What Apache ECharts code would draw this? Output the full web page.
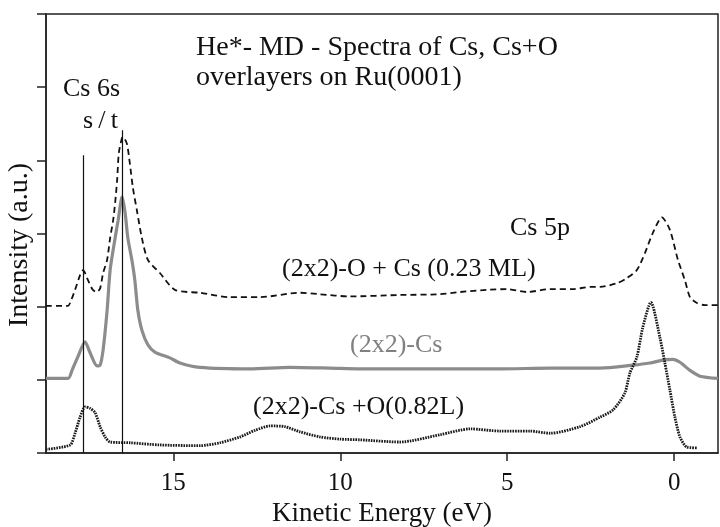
<!DOCTYPE html>
<html>
<head>
<meta charset="utf-8">
<script src="https://cdn.jsdelivr.net/npm/echarts@6/dist/echarts.min.js"></script>
<style>
  html, body { margin: 0; padding: 0; background: #fff; }
  #chart { width: 720px; height: 527px; }
</style>
</head>
<body>
<div id="chart"></div>
<script>
// kinetic energy (eV) / intensity (a.u., curves already offset)
var oCsEnergy = [18.81, 18.15, 18.09, 17.94, 17.79, 17.70, 17.55, 17.41, 17.29, 17.19, 17.10, 16.98, 16.89, 16.80, 16.74,
  16.68, 16.63, 16.54, 16.51, 16.39, 16.30, 16.21, 16.09, 15.94, 15.76, 15.40, 14.95, 14.20, 13.30, 12.40, 11.21, 10.61,
  9.71, 8.21, 7.01, 6.41, 5.61, 5.01, 4.41, 3.72, 3.03, 2.52, 2.22, 1.72, 1.42, 1.12, 0.88, 0.64, 0.37, 0.13, -0.11,
  -0.32, -0.47, -0.68, -0.92, -1.31];
var oCsIntensity = [2.01, 2.01, 2.05, 2.23, 2.43, 2.50, 2.36, 2.23, 2.20, 2.25, 2.46, 2.64, 2.94, 3.18, 3.42,
  3.73, 4.10, 4.30, 4.32, 4.23, 3.96, 3.63, 3.32, 2.94, 2.64, 2.46, 2.23, 2.19, 2.13, 2.13, 2.19, 2.17,
  2.14, 2.16, 2.17, 2.20, 2.23, 2.24, 2.20, 2.24, 2.24, 2.27, 2.27, 2.32, 2.39, 2.50, 2.73, 3.01, 3.22, 3.05, 2.64,
  2.36, 2.13, 2.05, 2.02, 2.02];

var csEnergy = [18.81, 18.15, 18.03, 17.86, 17.64, 17.49, 17.28, 17.19, 17.10, 16.98, 16.89, 16.74, 16.65, 16.53, 16.44,
  16.36, 16.24, 16.15, 16.06, 15.94, 15.76, 15.55, 15.10, 14.80, 14.20, 12.70, 11.51, 10.31, 9.41, 8.21, 6.71, 5.22,
  3.72, 2.22, 1.24, 0.73, 0.34, 0.04, -0.17, -0.47, -0.77, -1.31];
var csIntensity = [1.02, 1.02, 1.13, 1.31, 1.52, 1.37, 1.19, 1.20, 1.41, 1.95, 2.50, 2.94, 3.18, 3.50, 3.28,
  2.94, 2.64, 2.36, 1.95, 1.68, 1.48, 1.38, 1.30, 1.23, 1.17, 1.15, 1.17, 1.16, 1.15, 1.15, 1.15, 1.15,
  1.16, 1.16, 1.20, 1.23, 1.27, 1.28, 1.24, 1.13, 1.05, 1.02];

var csOEnergy = [18.81, 18.09, 17.94, 17.79, 17.64, 17.49, 17.34, 17.19, 17.04, 16.89, 16.30, 15.40, 14.20, 13.60, 13.00,
  12.55, 12.10, 11.66, 11.21, 10.61, 10.01, 9.41, 8.21, 7.01, 6.11, 5.22, 4.32, 3.72, 2.82, 2.22, 1.83, 1.48, 1.33,
  1.12, 0.94, 0.70, 0.43, 0.28, 0.13, -0.02, -0.17, -0.38, -0.68];
var csOIntensity = [0.05, 0.11, 0.27, 0.49, 0.63, 0.61, 0.55, 0.36, 0.22, 0.15, 0.14, 0.11, 0.10, 0.14, 0.22,
  0.31, 0.37, 0.36, 0.29, 0.22, 0.19, 0.18, 0.15, 0.25, 0.33, 0.30, 0.30, 0.27, 0.36, 0.49, 0.59, 0.82, 1.09,
  1.31, 1.72, 2.06, 1.58, 1.23, 0.86, 0.49, 0.22, 0.08, 0.07];

// Cs 6s singlet / triplet markers
var peakEnergy = [17.69, 16.52];
var peakTop = [4.07, 4.41];
var xTicks = [0, 5, 10, 15];

var FONT = '"Liberation Serif", "Times New Roman", serif';

function pairs(xs, ys) {
  return xs.map(function (x, i) { return [x, ys[i]]; });
}

function label(text, x, y, size, color) {
  return {
    type: 'text', x: x, y: y, silent: true,
    style: { text: text, font: size + 'px ' + FONT, fill: color || '#111', verticalAlign: 'middle' }
  };
}

var chart = echarts.init(document.getElementById('chart'));

var option = {
  animation: false,
  backgroundColor: '#fff',
  grid: {
    left: 46, right: 2, top: 14, bottom: 74,
    outerBoundsMode: 'none', containLabel: false,
    show: true, borderColor: '#222', borderWidth: 1.5
  },
  xAxis: {
    type: 'value',
    inverse: true,
    min: -1.31,
    max: 18.81,
    name: 'Kinetic Energy (eV)',
    nameLocation: 'middle',
    nameGap: 46,
    nameTextStyle: { fontFamily: FONT, fontSize: 27, color: '#111' },
    axisLine: { onZero: false, lineStyle: { color: '#222', width: 1.5 } },
    axisTick: { customValues: xTicks, length: 8, lineStyle: { color: '#222', width: 1.5 } },
    axisLabel: { customValues: xTicks, margin: 18, fontFamily: FONT, fontSize: 25, color: '#111' },
    splitLine: { show: false }
  },
  yAxis: {
    type: 'value',
    position: 'left',
    min: 0,
    max: 6,
    interval: 1,
    name: 'Intensity (a.u.)',
    nameLocation: 'middle',
    nameGap: 12,
    nameTextStyle: { fontFamily: FONT, fontSize: 28, color: '#111', padding: [0, 23, 0, 0] },
    axisLine: { onZero: false, lineStyle: { color: '#222', width: 1.5 } },
    axisTick: { length: 9, lineStyle: { color: '#222', width: 1.5 } },
    axisLabel: { show: false },
    splitLine: { show: false }
  },
  series: [
    {
      name: '(2x2)-O + Cs (0.23 ML)',
      type: 'line',
      data: pairs(oCsEnergy, oCsIntensity),
      showSymbol: false,
      smooth: 0.25,
      lineStyle: { color: '#111', width: 1.8, type: [6, 4] }
    },
    {
      name: '(2x2)-Cs',
      type: 'line',
      data: pairs(csEnergy, csIntensity),
      showSymbol: false,
      smooth: 0.25,
      lineStyle: { color: '#8c8c8c', width: 3.2 },
      markLine: {
        silent: true,
        symbol: 'none',
        label: { show: false },
        lineStyle: { color: '#111', width: 1.2, type: 'solid' },
        data: peakEnergy.map(function (e, i) {
          return [{ coord: [e, 0] }, { coord: [e, peakTop[i]] }];
        })
      }
    },
    {
      name: '(2x2)-Cs +O(0.82L)',
      type: 'line',
      data: pairs(csOEnergy, csOIntensity),
      showSymbol: false,
      smooth: 0.25,
      lineStyle: { color: '#1a1a1a', width: 2.8, type: [1.6, 1] }
    }
  ],
  graphic: [
    label('He*- MD - Spectra of Cs, Cs+O', 196, 48, 28),
    label('overlayers on Ru(0001)', 196, 78, 28),
    label('Cs 6s', 63, 89, 26),
    label('s\u2009/\u2009t', 83, 121, 26),
    label('Cs 5p', 510, 228, 26),
    label('(2x2)-O + Cs (0.23 ML)', 282, 269, 26),
    label('(2x2)-Cs', 350, 345, 26, '#808080'),
    label('(2x2)-Cs +O(0.82L)', 253, 407, 26)
  ]
};

chart.setOption(option);
</script>
</body>
</html>
